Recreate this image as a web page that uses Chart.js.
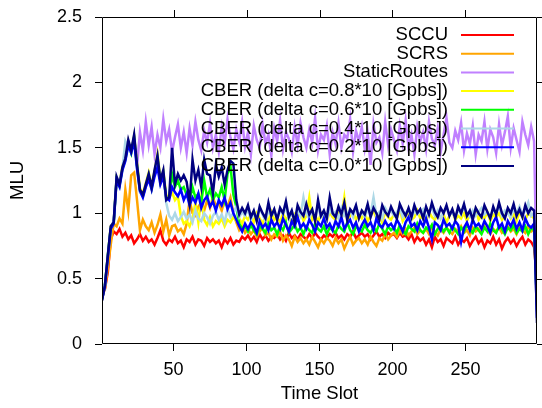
<!DOCTYPE html>
<html>
<head>
<meta charset="utf-8">
<script src="https://cdn.jsdelivr.net/npm/chart.js@4.4.1/dist/chart.umd.min.js"></script>
<style>
  html, body { margin: 0; padding: 0; background: #fff; }
</style>
</head>
<body>
<canvas id="mluChart" width="542" height="408"></canvas>
<script>
// time slots 1, 3, 5 ... 299
const timeSlots = Array.from({ length: 150 }, (_, i) => 1 + 2 * i);
const xTicks = [50, 100, 150, 200, 250];

const sccu = [
  0.38, 0.42, 0.55, 0.8, 0.86, 0.84, 0.88, 0.82, 0.85, 0.8,
  0.83, 0.77, 0.8, 0.84, 0.79, 0.82, 0.78, 0.8, 0.76, 0.81,
  0.87, 0.79, 0.76, 0.8, 0.78, 0.82, 0.77, 0.79, 0.74, 0.8,
  0.78, 0.82, 0.76, 0.8, 0.79, 0.75, 0.81, 0.78, 0.8, 0.77,
  0.79, 0.74, 0.8, 0.77, 0.81, 0.76, 0.79, 0.78, 0.82, 0.8,
  0.83, 0.79, 0.82, 0.78, 0.84, 0.8, 0.83, 0.79, 0.82, 0.81,
  0.84, 0.8, 0.83, 0.79, 0.85, 0.81, 0.83, 0.8, 0.84, 0.82,
  0.8, 0.84, 0.81, 0.85, 0.82, 0.8, 0.83, 0.81, 0.84, 0.82,
  0.85, 0.81, 0.83, 0.8, 0.84, 0.82, 0.86, 0.81, 0.83, 0.85,
  0.82, 0.84, 0.8, 0.83, 0.86, 0.82, 0.84, 0.81, 0.85, 0.83,
  0.84, 0.81, 0.85, 0.82, 0.83, 0.8, 0.84, 0.78, 0.82, 0.79,
  0.81, 0.76, 0.8, 0.74, 0.82, 0.78, 0.8, 0.75, 0.81, 0.79,
  0.77, 0.82, 0.76, 0.8, 0.78, 0.81, 0.75, 0.79, 0.82, 0.77,
  0.8, 0.74, 0.79, 0.77, 0.82, 0.76, 0.8, 0.73, 0.78, 0.81,
  0.77, 0.8, 0.75, 0.79, 0.82, 0.76, 0.8, 0.78, 0.74, 0.49
];

const scrs = [
  0.36, 0.42, 0.58, 0.76, 0.92, 0.9, 0.96, 0.92, 1.18, 1.02,
  1.29, 1.31, 1.1, 0.87, 0.95, 0.9, 0.87, 0.93, 0.85, 0.91,
  0.99, 0.86, 0.95, 0.83, 0.9, 0.91, 0.86, 0.88, 0.84, 0.92,
  1.1, 1.0, 0.98, 1.05, 1.08, 1.02, 1.1, 1.04, 1.12, 1.06,
  1.08, 1.02, 1.1, 1.05, 1.12, 1.0, 0.93, 0.87, 0.9, 0.85,
  0.88, 0.84, 0.87, 0.82, 0.86, 0.89, 0.83, 0.85, 0.8, 0.84,
  0.82, 0.86, 0.79, 0.83, 0.8, 0.75, 0.82, 0.78, 0.81, 0.77,
  0.8, 0.76, 0.82, 0.78, 0.74, 0.8, 0.77, 0.81, 0.79, 0.75,
  0.81, 0.77, 0.8, 0.73, 0.78, 0.82, 0.76, 0.79, 0.81, 0.77,
  0.8, 0.76, 0.82, 0.78, 0.75, 0.81, 0.79, 0.84, 0.8, 0.83,
  0.85, 0.82, 0.87, 0.84, 0.88, 0.83, 0.86, 0.89, 0.84, 0.87,
  0.85, 0.88, 0.84, 0.9, 0.86, 0.83, 0.88, 0.85, 0.89, 0.86,
  0.84, 0.88, 0.86, 0.9, 0.85, 0.87, 0.83, 0.89, 0.86, 0.88,
  0.85, 0.9, 0.87, 0.84, 0.88, 0.86, 0.89, 0.85, 0.87, 0.9,
  0.86, 0.88, 0.84, 0.89, 0.87, 0.85, 0.9, 0.86, 0.88, 0.45
];

const staticRoutes = [
  0.34, 0.44, 0.67, 0.89, 0.93, 1.26, 1.22, 1.34, 1.44, 1.55,
  1.47, 1.58, 1.36, 1.62, 1.48, 1.7, 1.52, 1.66, 1.45, 1.6,
  1.5, 1.72, 1.55, 1.64, 1.47, 1.58, 1.68, 1.5, 1.62, 1.46,
  1.65, 1.52, 1.7, 1.56, 1.48, 1.63, 1.54, 1.69, 1.5, 1.6,
  1.47, 1.66, 1.53, 1.72, 1.58, 1.49, 1.64, 1.55, 1.7, 1.51,
  1.62, 1.45, 1.67, 1.56, 1.5, 1.68, 1.53, 1.6, 1.44, 1.65,
  1.55, 1.71, 1.49, 1.62, 1.57, 1.47, 1.66, 1.52, 1.69, 1.58,
  1.5, 1.64, 1.54, 1.73, 1.48, 1.6, 1.56, 1.67, 1.45, 1.62,
  1.53, 1.69, 1.5, 1.6, 1.57, 1.72, 1.47, 1.63, 1.55, 1.66,
  1.49, 1.61, 1.37, 1.68, 1.54, 1.58, 1.46, 1.7, 1.52, 1.64,
  1.56, 1.48, 1.67, 1.53, 1.71, 1.5, 1.6, 1.45, 1.66, 1.55,
  1.62, 1.49, 1.7, 1.57, 1.52, 1.65, 1.47, 1.6, 1.73, 1.54,
  1.5, 1.63, 1.56, 1.69, 1.48, 1.61, 1.53, 1.67, 1.45, 1.6,
  1.55, 1.7, 1.49, 1.64, 1.58, 1.46, 1.68, 1.52, 1.62, 1.74,
  1.5, 1.65, 1.56, 1.47, 1.7, 1.6, 1.52, 1.66, 1.55, 0.4
];

const cber08 = [
  0.35, 0.44, 0.67, 0.9, 0.93, 1.27, 1.23, 1.36, 1.43, 1.55,
  1.47, 1.59, 1.38, 1.19, 1.15, 1.23, 1.31, 1.21, 1.32, 1.45,
  1.26, 1.32, 1.14, 1.12, 1.16, 1.1, 1.13, 0.98, 0.92, 0.94,
  0.9, 0.96, 1.08, 0.93, 1.12, 0.95, 0.91, 0.97, 0.9, 0.94,
  0.92, 0.96, 0.9, 0.95, 0.93, 0.97, 0.94, 0.96, 0.92, 0.98,
  0.95, 0.99, 0.93, 1.0, 0.96, 0.92, 0.98, 0.94, 1.01, 0.95,
  0.97, 0.93, 1.0, 0.95, 0.98, 0.92, 0.99, 0.96, 1.02, 0.94,
  0.98, 1.12, 0.95, 0.99, 0.93, 1.0, 0.96, 0.94, 1.01, 0.97,
  0.95, 1.0, 0.97, 1.12, 0.94, 0.98, 1.01, 0.95, 0.99, 0.96,
  1.0, 0.94, 0.98, 1.02, 0.96, 0.99, 0.93, 1.01, 0.97, 0.95,
  0.99, 0.96, 1.03, 0.94, 0.98, 1.0, 0.95, 0.97, 1.02, 0.96,
  0.98, 0.94, 1.01, 0.97, 0.95, 1.0, 0.96, 0.99, 0.93, 0.98,
  1.02, 0.95, 0.98, 0.96, 1.0, 0.94, 0.99, 0.97, 1.03, 0.95,
  0.98, 0.96, 1.01, 0.94, 0.99, 0.97, 1.0, 0.95, 0.98, 1.02,
  0.96, 0.99, 0.94, 1.01, 0.97, 0.95, 1.0, 0.98, 0.96, 0.35
];

const cber06 = [
  0.34, 0.45, 0.68, 0.89, 0.92, 1.26, 1.21, 1.34, 1.41, 1.53,
  1.46, 1.58, 1.36, 1.17, 1.13, 1.21, 1.29, 1.19, 1.31, 1.42,
  1.24, 1.31, 1.11, 1.12, 1.3, 1.2, 1.25, 1.18, 1.2, 1.14,
  1.1, 1.2, 1.12, 1.15, 1.08, 1.25, 1.12, 1.18, 1.1, 1.15,
  1.12, 1.2, 1.1, 1.3, 1.36, 1.14, 1.05, 0.92, 0.88, 0.9,
  0.86, 0.91, 0.87, 0.84, 0.9, 0.88, 0.85, 0.92, 0.87, 0.89,
  0.84, 0.9, 0.87, 0.93, 0.85, 0.88, 0.91, 0.86, 0.89, 0.84,
  0.9, 0.87, 0.85, 0.92, 0.88, 0.86, 0.9, 0.84, 0.89, 0.87,
  0.85, 0.91, 0.88, 0.86, 0.93, 0.87, 0.84, 0.9, 0.88, 0.86,
  0.91, 0.87, 0.85, 0.89, 0.86, 0.92, 0.88, 0.84, 0.9, 0.87,
  0.89, 0.85, 0.91, 0.87, 0.84, 0.9, 0.88, 0.86, 0.92, 0.87,
  0.85, 0.89, 0.87, 0.91, 0.84, 0.88, 0.9, 0.86, 0.89, 0.85,
  0.9, 0.87, 0.84, 0.89, 0.86, 0.91, 0.88, 0.85, 0.9, 0.87,
  0.84, 0.89, 0.86, 0.92, 0.87, 0.85, 0.9, 0.88, 0.84, 0.89,
  0.87, 0.91, 0.85, 0.88, 0.86, 0.9, 0.84, 0.89, 0.87, 0.3
];

const cber04 = [
  0.35, 0.45, 0.67, 0.89, 0.94, 1.26, 1.24, 1.34, 1.55, 1.5,
  1.47, 1.57, 1.35, 1.16, 1.13, 1.21, 1.28, 1.19, 1.3, 1.4,
  1.24, 1.3, 1.08, 0.98, 0.95, 1.0, 0.94, 0.97, 1.01, 0.96,
  0.99, 0.93, 1.02, 0.96, 0.94, 1.0, 0.97, 0.92, 0.98, 1.01,
  0.95, 0.99, 0.93, 1.03, 0.97, 1.0, 1.05, 0.97, 1.01, 0.98,
  1.03, 0.95, 1.0, 0.97, 1.04, 0.99, 0.94, 1.02, 0.98, 1.01,
  0.96, 1.02, 0.99, 1.05, 0.95, 1.0, 0.97, 1.03, 0.98, 1.12,
  1.0, 0.96, 1.02, 0.98, 1.05, 0.97, 1.0, 0.95, 1.03, 0.99,
  1.01, 0.96, 1.04, 0.98, 1.0, 1.02, 0.97, 1.05, 0.99, 1.01,
  0.97, 1.03, 0.99, 1.12, 0.98, 1.01, 0.96, 1.04, 1.0, 1.02,
  0.98, 1.01, 1.04, 0.97, 1.0, 1.03, 0.96, 1.02, 0.99, 1.01,
  1.03, 0.97, 1.0, 1.05, 0.98, 1.02, 0.96, 1.01, 1.04, 0.99,
  1.0, 0.97, 1.03, 0.99, 1.05, 1.0, 0.97, 1.02, 0.98, 1.01,
  1.04, 0.99, 1.01, 0.97, 1.03, 1.0, 1.06, 0.98, 1.02, 1.0,
  0.97, 1.03, 1.0, 1.05, 0.99, 1.02, 1.08, 0.98, 1.0, 0.25
];

const cber02 = [
  0.34, 0.44, 0.66, 0.88, 0.92, 1.25, 1.2, 1.33, 1.4, 1.52,
  1.46, 1.55, 1.34, 1.17, 1.12, 1.2, 1.26, 1.18, 1.28, 1.35,
  1.22, 1.28, 1.12, 1.1, 1.2, 1.16, 1.13, 1.18, 1.1, 1.15,
  1.06, 1.12, 1.08, 1.15, 1.04, 1.1, 1.13, 1.05, 1.09, 1.02,
  1.1, 1.06, 1.12, 1.03, 1.08, 1.0, 0.95, 0.9, 0.86, 0.92,
  0.88, 0.93, 0.9, 0.85, 0.94, 0.89, 0.92, 0.87, 0.95, 0.9,
  0.93, 0.88, 0.96, 0.91, 0.86, 0.94, 0.9, 0.97, 0.89, 0.92,
  0.88, 0.95, 0.91, 0.86, 0.93, 0.9, 0.96, 0.89, 0.92, 0.87,
  0.94, 0.9, 0.97, 0.88, 0.92, 0.95, 0.89, 0.93, 0.86, 0.91,
  0.95, 0.9, 0.93, 0.87, 0.96, 0.91, 0.89, 0.94, 0.9, 0.92,
  0.88, 0.95, 0.91, 0.86, 0.93, 0.97, 0.9, 0.92, 0.87, 0.94,
  0.9, 0.96, 0.89, 0.8, 0.93, 0.91, 0.87, 0.95, 0.9, 0.92,
  0.88, 0.94, 0.91, 0.78, 0.89, 0.93, 0.87, 0.95, 0.9, 0.92,
  0.88, 0.94, 0.9, 0.85, 0.93, 0.97, 0.89, 0.92, 0.86, 0.94,
  0.9, 0.95, 0.88, 0.93, 0.87, 0.96, 0.91, 0.89, 0.92, 0.2
];

const cber00 = [
  0.33, 0.45, 0.68, 0.9, 0.93, 1.28, 1.22, 1.35, 1.42, 1.56,
  1.48, 1.6, 1.37, 1.18, 1.14, 1.22, 1.3, 1.2, 1.33, 1.44,
  1.25, 1.33, 1.1, 1.12, 1.5, 1.22, 1.3, 1.25, 1.29, 1.24,
  1.08, 1.41, 1.25, 1.33, 1.2, 1.41, 1.3, 1.29, 1.15, 1.37,
  1.28, 1.35, 1.22, 1.33, 1.4, 1.38, 1.1, 0.99, 1.04, 1.0,
  1.06, 0.97, 1.02, 0.94, 1.05, 1.0, 0.96, 1.08, 0.98, 1.03,
  0.95, 1.04, 1.0, 1.09, 0.97, 1.02, 0.93, 1.06, 1.01, 0.98,
  1.07, 0.99, 1.03, 0.94, 1.1, 0.98, 1.02, 0.96, 1.12, 1.0,
  0.97, 1.05, 0.99, 1.08, 0.95, 1.03, 1.0, 1.06, 0.96, 1.02,
  0.99, 1.07, 0.97, 1.04, 1.0, 0.95, 1.06, 1.01, 0.98, 1.05,
  1.0, 0.96, 1.07, 1.02, 0.98, 1.04, 0.97, 1.06, 1.0, 1.03,
  0.96, 1.05, 0.99, 1.08, 1.01, 0.97, 1.04, 1.0, 1.06, 0.98,
  1.03, 0.96, 1.05, 1.0, 1.07, 0.98, 1.02, 0.95, 1.04, 1.0,
  0.97, 1.06, 1.01, 0.96, 1.05, 0.99, 1.08, 1.0, 0.96, 1.04,
  1.0, 1.07, 0.98, 1.03, 0.97, 1.06, 1.0, 1.04, 1.02, 0.16
];

const seriesLabels = [
  "SCCU",
  "SCRS",
  "StaticRoutes",
  "CBER (delta c=0.8*10 [Gpbs])",
  "CBER (delta c=0.6*10 [Gpbs])",
  "CBER (delta c=0.4*10 [Gpbs])",
  "CBER (delta c=0.2*10 [Gpbs])",
  "CBER (delta c=0.0*10 [Gpbs])"
];
const seriesValues = [sccu, scrs, staticRoutes, cber08, cber06, cber04, cber02, cber00];
const seriesColors = ["#ff0000", "#ffa500", "#c080ff", "#ffff00", "#00ff00", "#add8e6", "#0000ff", "#000080"];

const FONT = "'Liberation Sans', Arial, sans-serif";

// gnuplot style frame, mirrored ticks and the key
const gnuFrame = {
  id: "gnuFrame",
  afterDatasetsDraw(chart) {
    const ctx = chart.ctx;
    const a = chart.chartArea;
    const xs = chart.scales.x;
    const ys = chart.scales.y;
    ctx.save();
    ctx.strokeStyle = "#000";
    ctx.lineWidth = 1;
    ctx.beginPath();
    ctx.rect(a.left + 0.5, a.top + 0.5, a.right - a.left - 1, a.bottom - a.top - 1);
    xTicks.forEach((v) => {
      const px = Math.round(xs.getPixelForValue(v)) + 0.5;
      ctx.moveTo(px, a.top);
      ctx.lineTo(px, a.top - 7);
    });
    ys.ticks.forEach((t) => {
      const py = Math.round(ys.getPixelForValue(t.value)) + 0.5;
      ctx.moveTo(a.right, py);
      ctx.lineTo(a.right + 7, py);
    });
    ctx.stroke();

    ctx.font = "18.5px " + FONT;
    ctx.textAlign = "right";
    ctx.textBaseline = "middle";
    chart.data.datasets.forEach((ds, k) => {
      const y = a.top + 18 + k * 18.7;
      ctx.fillStyle = "#000";
      ctx.fillText(ds.label, a.right - 89, y);
      ctx.strokeStyle = ds.borderColor;
      ctx.lineWidth = 2;
      ctx.beginPath();
      ctx.moveTo(a.right - 76, y);
      ctx.lineTo(a.right - 23, y);
      ctx.stroke();
    });
    ctx.restore();
  }
};

const datasets = seriesLabels.map((label, k) => ({
  label: label,
  data: seriesValues[k].map((v, i) => ({ x: timeSlots[i], y: v })),
  borderColor: seriesColors[k],
  backgroundColor: seriesColors[k],
  borderWidth: 2.5,
  pointRadius: 0,
  tension: 0,
  fill: false,
  order: seriesLabels.length - k
}));

new Chart(document.getElementById("mluChart"), {
  type: "line",
  data: { datasets: datasets },
  options: {
    responsive: false,
    animation: false,
    events: [],
    layout: { padding: { top: 17, right: 5, left: 0, bottom: 0 } },
    plugins: {
      legend: { display: false },
      tooltip: { enabled: false }
    },
    scales: {
      x: {
        type: "linear",
        min: 1,
        max: 299,
        afterBuildTicks: (s) => {
          s.ticks = xTicks.map((v) => ({ value: v }));
        },
        afterFit: (s) => {
          s.height = 64;
          s.paddingLeft = 0;
          s.paddingRight = 0;
        },
        border: { display: false },
        grid: { drawOnChartArea: false, tickLength: 7, color: "#000" },
        ticks: { color: "#000", padding: 8, maxRotation: 0, font: { family: FONT, size: 18 } },
        title: {
          display: true,
          text: "Time Slot",
          color: "#000",
          font: { family: FONT, size: 18.5 },
          padding: { top: 0, bottom: 3 }
        }
      },
      y: {
        min: 0,
        max: 2.5,
        ticks: {
          stepSize: 0.5,
          color: "#000",
          padding: 13,
          font: { family: FONT, size: 18 },
          callback: (v) => String(v)
        },
        afterFit: (s) => {
          s.width = 102;
          s.paddingTop = 0;
          s.paddingBottom = 0;
        },
        border: { display: false },
        grid: { drawOnChartArea: false, tickLength: 7, color: "#000" },
        title: {
          display: true,
          text: "MLU",
          color: "#000",
          font: { family: FONT, size: 18.5 },
          padding: { top: 6.5, bottom: 0 }
        }
      }
    }
  },
  plugins: [gnuFrame]
});
</script>
</body>
</html>
